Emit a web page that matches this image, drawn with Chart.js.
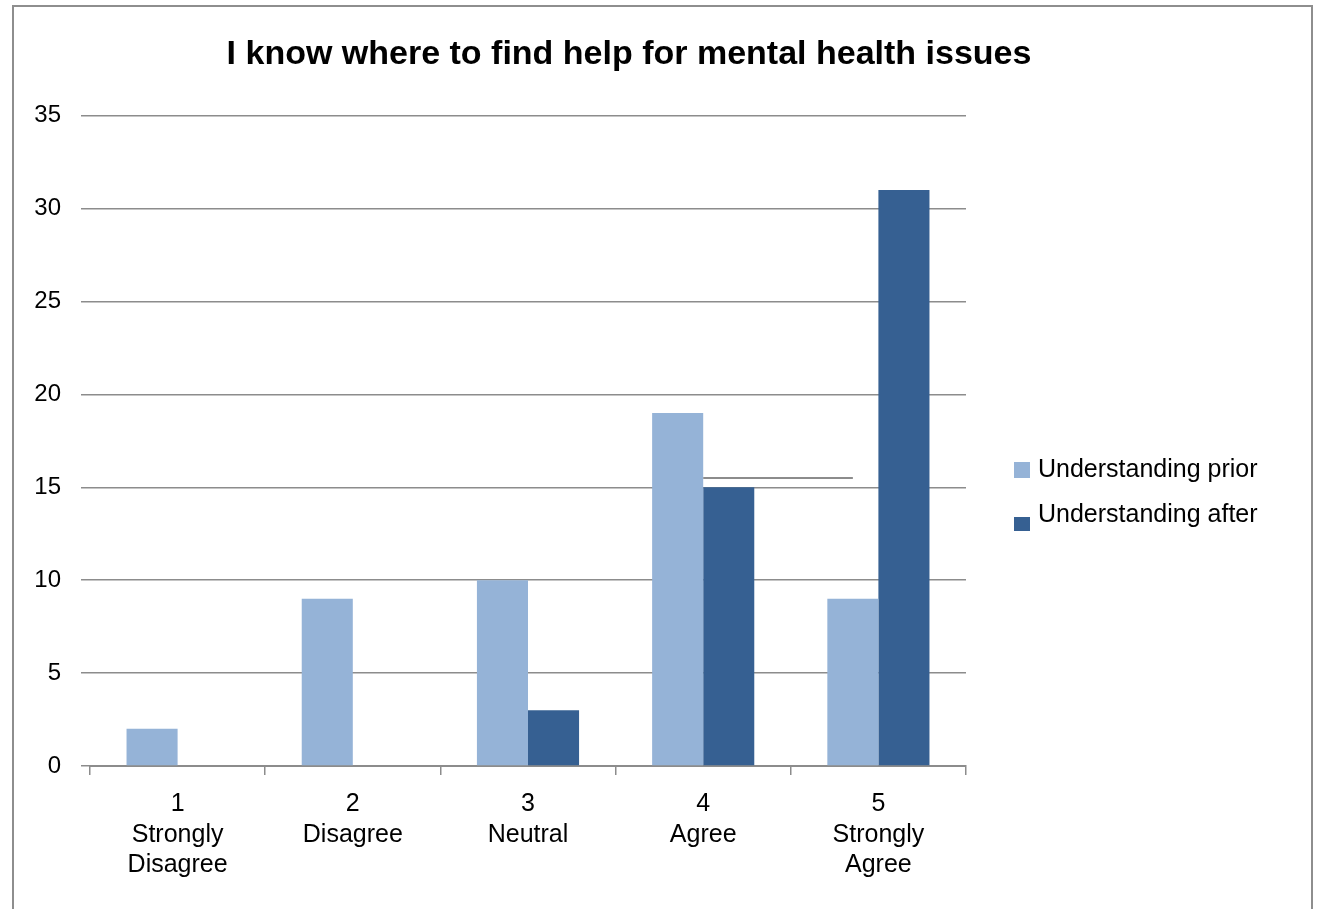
<!DOCTYPE html>
<html lang="en">
<head>
<meta charset="UTF-8">
<title>I know where to find help for mental health issues</title>
<style>
    body { margin: 0; background: #fff; overflow: hidden; }
    #wrap { position: relative; width: 1319px; height: 909px; }
    #frame {
        position: absolute; left: 12px; top: 5px; width: 1297px; height: 1000px;
        border: 2px solid #8e8e8e; border-bottom: none; pointer-events: none;
    }
</style>
</head>
<body>
<div id="wrap">
    <canvas id="myChart" width="1319" height="909"></canvas>
    <div id="frame"></div>
</div>

<script src="https://cdn.jsdelivr.net/npm/chart.js@4/dist/chart.umd.min.js"></script>
<script>
    // data
    const categories = [
        ['1', 'Strongly', 'Disagree'],
        ['2', 'Disagree'],
        ['3', 'Neutral'],
        ['4', 'Agree'],
        ['5', 'Strongly', 'Agree']
    ];
    const priorValues = [2, 9, 10, 19, 9];
    const afterValues = [0, 0, 3, 15, 31];
    const seriesNames = ['Understanding prior', 'Understanding after'];
    const yMax = 35;
    const yStep = 5;
    // stray line left in the original sheet, at about 15.5
    const strayLineValue = 15.5;

    const FONT = '"Liberation Sans", Arial, sans-serif';
    const gridColor = '#8c8c8c';

    // legend drawn by hand so it sits where the original one does
    const sideLegend = {
        id: 'sideLegend',
        afterDraw(chart) {
            const ctx = chart.ctx;
            const area = chart.chartArea;
            const x = area.right + 48;
            const rows = [
                { y: 470, boxTop: 462, boxH: 16 },
                { y: 515, boxTop: 517, boxH: 14 }
            ];
            ctx.save();
            ctx.font = '25px ' + FONT;
            ctx.textBaseline = 'middle';
            ctx.textAlign = 'left';
            chart.data.datasets.forEach((ds, i) => {
                const r = rows[i];
                ctx.fillStyle = ds.backgroundColor;
                ctx.fillRect(x, r.boxTop, 16, r.boxH);
                ctx.fillStyle = '#000';
                ctx.fillText(ds.label, x + 24, r.y);
            });
            ctx.restore();
        }
    };

    const strayLine = {
        id: 'strayLine',
        afterDatasetsDraw(chart) {
            const ctx = chart.ctx;
            const y = chart.scales.y.getPixelForValue(strayLineValue);
            const x1 = chart.scales.x.getPixelForValue(3);
            const x2 = chart.getDatasetMeta(0).data[4].x;
            ctx.save();
            ctx.strokeStyle = gridColor;
            ctx.lineWidth = 2;
            ctx.beginPath();
            ctx.moveTo(x1, y);
            ctx.lineTo(x2, y);
            ctx.stroke();
            ctx.restore();
        }
    };

    const ctx = document.getElementById('myChart').getContext('2d');
    const myChart = new Chart(ctx, {
        type: 'bar',
        data: {
            labels: categories,
            datasets: [
                {
                    label: seriesNames[0],
                    data: priorValues,
                    backgroundColor: '#95b3d7',
                    categoryPercentage: 0.583,
                    barPercentage: 1
                },
                {
                    label: seriesNames[1],
                    data: afterValues,
                    backgroundColor: '#366092',
                    categoryPercentage: 0.583,
                    barPercentage: 1
                }
            ]
        },
        options: {
            responsive: false,
            animation: false,
            layout: {
                padding: { left: 20, right: 81, top: 10, bottom: 0 }
            },
            plugins: {
                legend: { display: false },
                tooltip: { enabled: false },
                title: {
                    display: true,
                    text: 'I know where to find help for mental health issues',
                    color: '#000',
                    font: { family: FONT, size: 34, weight: 'bold', lineHeight: 1.2 },
                    padding: { top: 24, bottom: 41 }
                }
            },
            scales: {
                x: {
                    grid: {
                        display: true,
                        drawOnChartArea: false,
                        drawTicks: true,
                        tickLength: 9,
                        color: gridColor,
                        lineWidth: 1.5
                    },
                    border: { display: true, color: gridColor, width: 2 },
                    ticks: {
                        color: '#000',
                        padding: 14,
                        maxRotation: 0,
                        autoSkip: false,
                        font: { family: FONT, size: 25, lineHeight: 1.22 }
                    },
                    afterFit: (scale) => { scale.height = 143; }
                },
                y: {
                    min: 0,
                    max: yMax,
                    grid: {
                        color: gridColor,
                        lineWidth: 1.5,
                        tickLength: 9
                    },
                    border: { display: false },
                    ticks: {
                        stepSize: yStep,
                        color: '#000',
                        padding: 20,
                        font: { family: FONT, size: 24 }
                    },
                    afterFit: (scale) => { scale.width = 70; }
                },
                yRight: {
                    position: 'right',
                    display: true,
                    grid: { display: false, drawTicks: false },
                    border: { display: false },
                    ticks: { display: false },
                    afterFit: (scale) => { scale.width = 272; }
                }
            }
        },
        plugins: [sideLegend, strayLine]
    });
</script>
</body>
</html>
